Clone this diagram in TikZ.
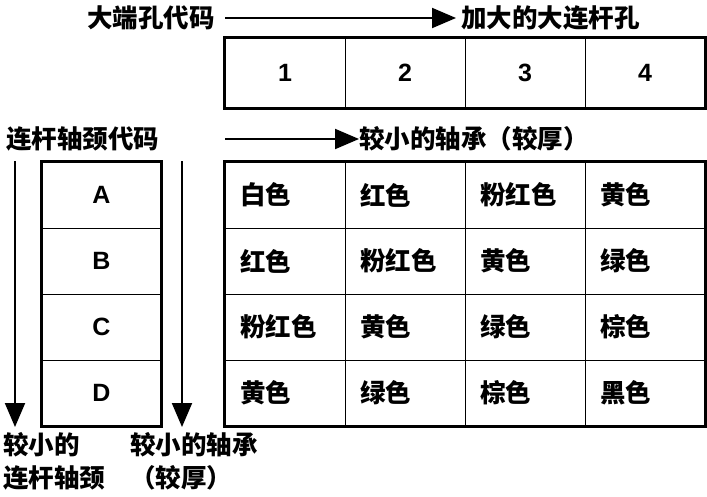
\documentclass[tikz,border=0pt]{standalone}
\usepackage{fontspec}
\setmainfont{Liberation Sans}
\newfontfamily\cjk{Noto Sans CJK SC}
\usetikzlibrary{arrows.meta}
\tikzset{
  lbl/.style={font=\cjk\bfseries\fontsize{25.5}{33}\selectfont, inner sep=0pt, align=left},
  numcell/.style={draw, line width=1pt, minimum width=120pt, minimum height=70pt, inner sep=0pt,
    font=\bfseries\fontsize{25}{28}\selectfont},
  codecell/.style={draw, line width=1pt, minimum width=119pt, minimum height=66pt, inner sep=0pt,
    font=\bfseries\fontsize{25}{28}\selectfont},
  colcell/.style={draw, line width=1pt, minimum width=120pt, minimum height=66pt, text width=90pt,
    align=left, inner xsep=15pt, inner ysep=0pt, font=\cjk\bfseries\fontsize{25.5}{30}\selectfont},
  frame/.style={draw, line width=2.5pt},
  arr/.style={line width=2pt, -{Triangle[length=24pt,width=20pt]}}
}
\begin{document}
\begin{tikzpicture}[x=1pt,y=-1pt]
\useasboundingbox[fill=white] (0,0) rectangle (707,496);
% top labels
\node[lbl, anchor=east] (bigcode) at (215,18) {大端孔代码};
\node[lbl, anchor=west] (bigger) at (461,18) {加大的大连杆孔};
\coordinate (a1s) at (225,18);
\coordinate (a1e) at (456,18);
\draw[arr] (a1s) -- (a1e);
% top table
\foreach \n [count=\i] in {1,2,3,4}{
  \node[numcell] (n\i) at (165+120*\i,73) {\n};
}
\draw[frame] (n1.north west) rectangle (n4.south east);
% second labels
\node[lbl, anchor=west] (jcode) at (6,139) {连杆轴颈代码};
\node[lbl, anchor=west] (smallb) at (359,139) {较小的轴承（较厚）};
\coordinate (a2s) at (225,139);
\draw[arr] (a2s) -- (smallb.west);
% journal code column
\foreach \n [count=\i] in {A,B,C,D}{
  \node[codecell] (j\i) at (101.5,162+66*\i-33) {\n};
}
\draw[frame] (j1.north west) rectangle (j4.south east);
% colour grid
\foreach \r/\row in {1/{白色,红色,粉红色,黄色},2/{红色,粉红色,黄色,绿色},3/{粉红色,黄色,绿色,棕色},4/{黄色,绿色,棕色,黑色}}{
  \foreach \t [count=\c] in \row {
    \node[colcell] (m\r\c) at (165+120*\c,162+66*\r-33) {\t};
  }
}
\draw[frame] (m11.north west) rectangle (m44.south east);
% vertical arrows
\coordinate (v1s) at (15,161);
\coordinate (v1e) at (15,427);
\coordinate (v2s) at (182,161);
\coordinate (v2e) at (182,427);
\draw[arr] (v1s) -- (v1e);
\draw[arr] (v2s) -- (v2e);
% bottom labels
\node[lbl, anchor=north west] (smallj) at (3,432) {较小的\\连杆轴颈};
\node[lbl, anchor=north west] (smallb2) at (130,432) {较小的轴承\\（较厚）};
\end{tikzpicture}
\end{document}
